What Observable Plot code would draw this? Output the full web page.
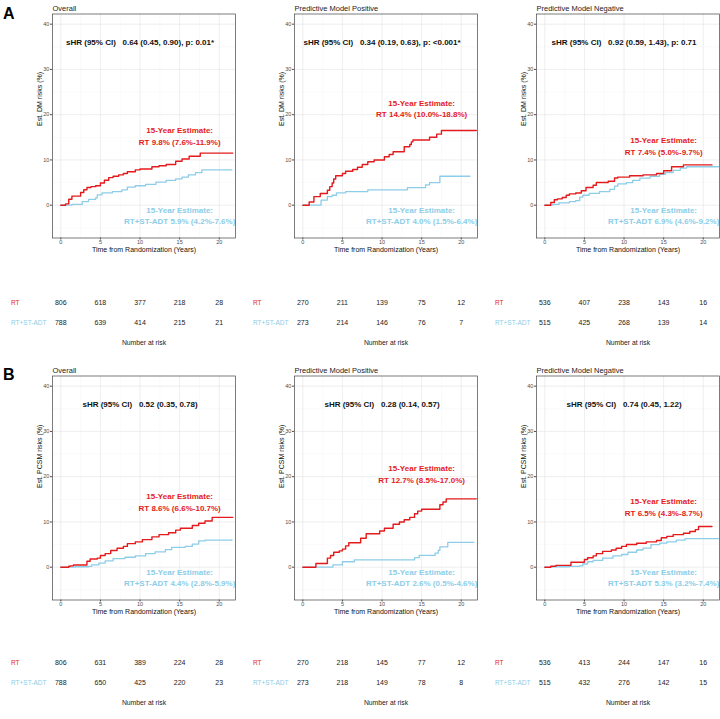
<!DOCTYPE html>
<html>
<head>
<meta charset="utf-8">
<script src="https://cdn.jsdelivr.net/npm/d3@7"></script>
<script src="https://cdn.jsdelivr.net/npm/@observablehq/plot@0.6"></script>
<style>
  html, body { margin: 0; padding: 0; background: #fff; }
  #root { position: relative; width: 720px; height: 719px; overflow: hidden; font-family: "Liberation Sans", Arial, sans-serif; }
  #root svg { position: absolute; overflow: visible; }
  .letter { position: absolute; font-size: 16px; line-height: 16px; font-weight: bold; color: #000; }
</style>
</head>
<body>
<div id="root"></div>
<script>
// ---------- DATA ----------
const panelTitles = ["Overall", "Predictive Model Positive", "Predictive Model Negative"];
const yLabels = ["Est. DM risks (%)", "Est. PCSM risks (%)"];
const xLabel = "Time from Randomization (Years)";
const groups = ["RT", "RT+ST-ADT"];
const atRiskTimes = [0, 5, 10, 15, 20];
const xTicks = [0, 5, 10, 15, 20];
const yTicks = [0, 10, 20, 30, 40];

// Row A: distant metastasis (DM)
const dmAllRT_t  = [0, 0.6, 1.0, 1.4, 2.5, 2.9, 3.3, 3.8, 4.4, 5.0, 5.5, 6.05, 6.6, 7.3, 7.9, 8.4, 9.4, 10.0, 11.5, 12.4, 13.3, 14.5, 15.3, 16.2, 17.6, 21.7];
const dmAllRT_v  = [0, 0.3, 1.3, 2.0, 2.8, 3.4, 3.9, 4.1, 4.3, 4.9, 5.5, 6.1, 6.4, 6.7, 7.0, 7.4, 7.8, 8.0, 8.5, 8.7, 9.0, 9.7, 10.2, 10.8, 11.5, 11.5];
const dmAllADT_t = [0, 1.4, 2.7, 3.5, 4.4, 4.6, 5.2, 6.5, 7.7, 8.4, 9.4, 10.7, 12.0, 13.3, 14.5, 15.3, 16.1, 17.0, 17.8, 21.6];
const dmAllADT_v = [0, 0.2, 0.8, 1.3, 1.6, 2.3, 2.7, 3.0, 3.4, 4.0, 4.3, 4.6, 5.1, 5.5, 5.8, 6.2, 6.7, 7.2, 7.8, 7.8];

const dmPosRT_t  = [0, 0.8, 1.4, 2.2, 3.1, 3.4, 3.7, 3.9, 4.15, 5.0, 5.4, 6.3, 6.9, 7.5, 8.2, 9.0, 10.3, 10.9, 11.4, 12.8, 13.5, 13.7, 13.9, 16.0, 16.9, 17.5, 21.9];
const dmPosRT_v  = [0, 0.7, 1.9, 2.6, 3.3, 4.1, 4.9, 5.8, 6.5, 7.0, 7.5, 7.9, 8.4, 9.0, 9.6, 10.0, 10.7, 11.2, 11.8, 12.9, 13.4, 14.0, 14.4, 15.0, 15.7, 16.5, 16.5];
const dmPosADT_t = [0, 2.3, 3.1, 3.7, 4.25, 5.4, 8.2, 13.2, 15.5, 16.0, 17.3, 21.1];
const dmPosADT_v = [0, 1.1, 1.9, 2.2, 2.7, 3.0, 3.4, 3.9, 4.5, 5.0, 6.4, 6.4];

const dmNegRT_t  = [0, 0.75, 1.2, 1.6, 2.2, 2.7, 3.1, 3.9, 4.6, 5.2, 6.1, 6.5, 8.0, 8.8, 9.2, 10.7, 12.4, 14.1, 15.0, 16.0, 17.5, 21.1];
const dmNegRT_v  = [0, 0.6, 1.2, 1.4, 1.7, 2.2, 2.5, 2.7, 3.2, 3.9, 4.4, 5.0, 5.3, 6.0, 6.2, 6.5, 6.7, 7.0, 7.6, 8.5, 8.9, 8.9];
const dmNegADT_t = [0, 1.0, 1.8, 3.1, 3.9, 4.4, 4.8, 5.6, 6.9, 8.2, 8.8, 9.2, 10.3, 11.1, 12.0, 13.3, 14.5, 15.2, 16.2, 17.1, 17.9, 21.9];
const dmNegADT_v = [0, 0.2, 0.5, 0.8, 1.0, 1.8, 2.2, 2.6, 3.0, 3.5, 4.2, 4.7, 5.0, 5.5, 6.0, 6.4, 6.8, 7.2, 7.7, 8.2, 8.5, 8.6];

// Row B: prostate cancer-specific mortality (PCSM)
const pcsmAllRT_t  = [0, 1.0, 1.2, 1.6, 3.3, 3.7, 4.6, 5.0, 5.6, 6.3, 7.1, 7.9, 8.4, 9.4, 10.3, 11.5, 12.4, 13.6, 14.5, 15.1, 16.6, 17.4, 18.2, 19.1, 21.7];
const pcsmAllRT_v  = [0, 0.2, 0.3, 0.5, 1.3, 1.8, 2.0, 2.6, 3.0, 3.7, 4.2, 4.6, 5.2, 5.6, 6.1, 6.7, 7.2, 7.6, 8.2, 8.6, 9.2, 9.7, 10.2, 11.0, 11.0];
const pcsmAllADT_t = [0, 1.8, 3.5, 3.9, 4.8, 5.6, 6.6, 8.1, 9.4, 10.7, 11.9, 13.2, 14.0, 15.7, 16.6, 17.4, 18.2, 21.6];
const pcsmAllADT_v = [0, 0.1, 0.2, 0.5, 0.9, 1.4, 1.9, 2.2, 2.5, 3.0, 3.4, 3.9, 4.4, 4.6, 5.1, 5.8, 6.0, 6.1];

const pcsmPosRT_t  = [0, 1.65, 3.1, 3.5, 3.9, 4.6, 5.0, 5.4, 5.8, 7.3, 8.0, 9.7, 10.3, 11.4, 12.2, 12.8, 13.5, 14.1, 14.5, 15.0, 17.3, 17.7, 18.1, 21.9];
const pcsmPosRT_v  = [0, 0.8, 2.0, 2.6, 3.3, 3.6, 4.0, 4.7, 5.4, 6.4, 7.4, 8.0, 8.6, 9.5, 10.0, 10.5, 11.0, 11.8, 12.4, 12.8, 13.8, 14.4, 15.1, 15.1];
const pcsmPosADT_t = [0, 3.8, 5.0, 6.5, 14.1, 14.7, 16.7, 17.1, 17.3, 18.3, 21.6];
const pcsmPosADT_v = [0, 0.5, 1.2, 1.6, 2.1, 2.6, 3.1, 3.7, 4.5, 5.5, 5.5];

const pcsmNegRT_t  = [0, 0.75, 1.4, 3.3, 5.0, 5.4, 6.1, 6.5, 7.3, 8.4, 9.0, 9.7, 10.3, 11.6, 12.8, 14.1, 14.7, 15.4, 16.2, 17.5, 18.3, 19.0, 19.4, 21.1];
const pcsmNegRT_v  = [0, 0.2, 0.4, 1.1, 1.7, 2.1, 2.5, 3.0, 3.5, 3.8, 4.2, 4.6, 5.0, 5.3, 5.6, 5.9, 6.5, 6.8, 7.2, 7.5, 7.9, 8.3, 9.0, 9.0];
const pcsmNegADT_t = [0, 1.0, 3.1, 4.4, 4.8, 5.4, 6.1, 7.3, 8.6, 9.7, 10.5, 11.6, 12.4, 13.4, 14.5, 15.4, 16.6, 17.7, 21.9];
const pcsmNegADT_v = [0, 0.1, 0.2, 0.3, 0.7, 1.2, 1.5, 2.0, 2.5, 2.8, 3.3, 3.8, 4.2, 5.0, 5.3, 5.6, 6.0, 6.3, 6.3];

const shrA = ["0.64 (0.45, 0.90), p: 0.01*", "0.34 (0.19, 0.63), p: <0.001*", "0.92 (0.59, 1.43), p: 0.71"];
const shrB = ["0.52 (0.35, 0.78)", "0.28 (0.14, 0.57)", "0.74 (0.45, 1.22)"];
const estRT_A  = ["RT 9.8% (7.6%-11.9%)", "RT 14.4% (10.0%-18.8%)", "RT 7.4% (5.0%-9.7%)"];
const estADT_A = ["RT+ST-ADT 5.9% (4.2%-7.6%)", "RT+ST-ADT 4.0% (1.5%-6.4%)", "RT+ST-ADT 6.9% (4.6%-9.2%)"];
const estRT_B  = ["RT 8.6% (6.6%-10.7%)", "RT 12.7% (8.5%-17.0%)", "RT 6.5% (4.3%-8.7%)"];
const estADT_B = ["RT+ST-ADT 4.4% (2.8%-5.9%)", "RT+ST-ADT 2.6% (0.5%-4.6%)", "RT+ST-ADT 5.3% (3.2%-7.4%)"];

const riskRT_A  = [[806, 618, 377, 218, 28], [270, 211, 139, 75, 12], [536, 407, 238, 143, 16]];
const riskADT_A = [[788, 639, 414, 215, 21], [273, 214, 146, 76, 7], [515, 425, 268, 139, 14]];
const riskRT_B  = [[806, 631, 389, 224, 28], [270, 218, 145, 77, 12], [536, 413, 244, 147, 16]];
const riskADT_B = [[788, 650, 425, 220, 23], [273, 218, 149, 78, 8], [515, 432, 276, 142, 15]];

// ---------- LAYOUT / STYLE ----------
const RED = "#E41A1C", BLUE = "#8DCDE8";
const FONT = "'Liberation Sans', Arial, sans-serif";
const X_DOMAIN = [-1.05, 22.05], Y_DOMAIN = [-7.25, 42.25];
const colLeft = [0, 242, 484];
const rowTop = [0, 362];
const tableTop = [262, 622];
const rtLabelY = [[15.4, 21.5, 13.3], [14.5, 20.8, 13.4]];
const adtLabelY = -2.1;
const W = 236, ML = 52, MR = 1;

const root = document.getElementById("root");
const zip = (t, v) => t.map((d, i) => ({t: d, v: v[i]}));

const curves = [
  [[zip(dmAllRT_t, dmAllRT_v), zip(dmAllADT_t, dmAllADT_v)],
   [zip(dmPosRT_t, dmPosRT_v), zip(dmPosADT_t, dmPosADT_v)],
   [zip(dmNegRT_t, dmNegRT_v), zip(dmNegADT_t, dmNegADT_v)]],
  [[zip(pcsmAllRT_t, pcsmAllRT_v), zip(pcsmAllADT_t, pcsmAllADT_v)],
   [zip(pcsmPosRT_t, pcsmPosRT_v), zip(pcsmPosADT_t, pcsmPosADT_v)],
   [zip(pcsmNegRT_t, pcsmNegRT_v), zip(pcsmNegADT_t, pcsmNegADT_v)]]
];
const shr = [shrA, shrB];
const estRT = [estRT_A, estRT_B];
const estADT = [estADT_A, estADT_B];
const riskRT = [riskRT_A, riskRT_B];
const riskADT = [riskADT_A, riskADT_B];

function place(el, left, top) {
  el.style.left = left + "px";
  el.style.top = top + "px";
  root.appendChild(el);
}

for (let r = 0; r < 2; r++) {
  for (let c = 0; c < 3; c++) {
    const [rt, adt] = curves[r][c];
    const nbsp = "\u00a0\u00a0\u00a0";
    const chart = Plot.plot({
      width: W, height: 262,
      marginLeft: ML, marginRight: MR, marginTop: 13.5, marginBottom: 24.5,
      style: {fontFamily: FONT, fontSize: "5.5px", color: "#4d4d4d", background: "transparent", overflow: "visible"},
      x: {domain: X_DOMAIN, ticks: xTicks, tickSize: 2, tickPadding: 0.5, label: null},
      y: {domain: Y_DOMAIN, ticks: yTicks, tickSize: 2, tickPadding: 1.2, label: null},
      marks: [
        Plot.ruleX([2.5, 7.5, 12.5, 17.5], {stroke: "#f2f2f2", strokeWidth: 0.4}),
        Plot.ruleY([-5, 5, 15, 25, 35], {stroke: "#f2f2f2", strokeWidth: 0.4}),
        Plot.ruleX(xTicks, {stroke: "#e6e6e6", strokeWidth: 0.7}),
        Plot.ruleY(yTicks, {stroke: "#e6e6e6", strokeWidth: 0.7}),
        Plot.line(adt, {x: "t", y: "v", curve: "step-after", stroke: BLUE, strokeWidth: 1.3}),
        Plot.line(rt, {x: "t", y: "v", curve: "step-after", stroke: RED, strokeWidth: 1.4}),
        Plot.text([`sHR (95% CI)${nbsp}${shr[r][c]}`], {text: d => d, x: 10, y: 36, fontSize: 8, fontWeight: "bold", fill: "#111"}),
        Plot.text([`15-Year Estimate:\n${estRT[r][c]}`], {text: d => d, x: 15, y: rtLabelY[r][c], fontSize: 8, fontWeight: "bold", fill: RED, lineHeight: 1.45}),
        Plot.text([`15-Year Estimate:\n${estADT[r][c]}`], {text: d => d, x: 15, y: adtLabelY, fontSize: 8, fontWeight: "bold", fill: BLUE, lineHeight: 1.45}),
        Plot.frame({stroke: "#444", strokeWidth: 0.7}),
        Plot.text([panelTitles[c]], {text: d => d, frameAnchor: "top-left", dy: -8.5, textAnchor: "start", fontSize: 7.5, fill: "#222"}),
        Plot.text([yLabels[r]], {text: d => d, frameAnchor: "left", dx: -12.7, rotate: -90, fontSize: 7, fill: "#111"}),
        Plot.text([xLabel], {text: d => d, frameAnchor: "bottom", dy: 13.5, fontSize: 7, fill: "#111"})
      ]
    });
    place(chart, colLeft[c], rowTop[r]);

    const rows = [
      ...atRiskTimes.map((t, i) => ({t, g: groups[0], n: riskRT[r][c][i]})),
      ...atRiskTimes.map((t, i) => ({t, g: groups[1], n: riskADT[r][c][i]}))
    ];
    const table = Plot.plot({
      width: W, height: 100,
      marginLeft: ML, marginRight: MR, marginTop: 0, marginBottom: 0,
      style: {fontFamily: FONT, background: "transparent", overflow: "visible"},
      x: {domain: X_DOMAIN, axis: null},
      y: {type: "point", domain: [...groups, "Number at risk"], range: [30, 90], axis: null},
      marks: [
        Plot.text(rows, {x: "t", y: "g", text: d => String(d.n), fontSize: 7, fill: "#222"}),
        Plot.text([groups[0]], {y: d => d, text: d => d, frameAnchor: "left", dx: -41.5, textAnchor: "start", fontSize: 6.5, fill: RED}),
        Plot.text([groups[1]], {y: d => d, text: d => d, frameAnchor: "left", dx: -41.5, textAnchor: "start", fontSize: 6.5, fill: BLUE}),
        Plot.text(["Number at risk"], {y: d => d, text: d => d, frameAnchor: "middle", fontSize: 6.8, fill: "#222"})
      ]
    });
    place(table, colLeft[c], tableTop[r]);
  }
}

["A", "B"].forEach((L, i) => {
  const d = document.createElement("div");
  d.className = "letter";
  d.textContent = L;
  d.style.left = "3px";
  d.style.top = (i === 0 ? 6 : 366.5) + "px";
  root.appendChild(d);
});
</script>
</body>
</html>
